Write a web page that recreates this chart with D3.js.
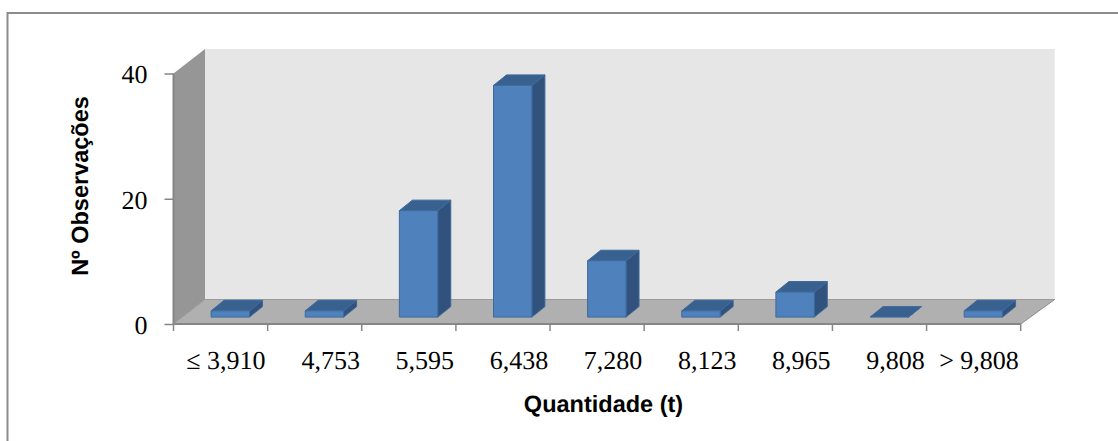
<!DOCTYPE html>
<html><head><meta charset="utf-8">
<style>html,body{margin:0;padding:0;background:#fff}svg{display:block}text{text-rendering:geometricPrecision}</style>
<script src="https://cdn.jsdelivr.net/npm/d3@7/dist/d3.min.js"></script></head>
<body><svg id="c" width="1118" height="441"></svg>
<script>
const categories = ["≤ 3,910","4,753","5,595","6,438","7,280","8,123","8,965","9,808","> 9,808"];
const values = [1,1,17,37,9,1,4,0,1];
const yTicks = [0,20,40];
const xTitle = "Quantidade (t)";
const yTitle = "Nº Observações";

const svg = d3.select("#c");
svg.append("path").attr("d","M7.5,441V13H1118").attr("fill","none").attr("stroke","#8c8c8c").attr("stroke-width",2);

const x = d3.scaleBand().domain(categories).range([173.5,1020.7]);
const y = d3.scaleLinear().domain([0,40]).range([324,73.5]);
const ddx=31.5, ddy=-24.5, extra=2.5;
const x0=x.range()[0], x1=x.range()[1], y0=y(0), yT=y(40);
const poly=(pts,fill,stroke,sw)=>svg.append("polygon").attr("points",pts.map(p=>p.join(",")).join(" ")).attr("fill",fill).attr("stroke",stroke||"none").attr("stroke-width",sw||0);

// back wall, side wall, floor
poly([[x0+ddx,yT+ddy],[x1+ddx+extra,yT+ddy],[x1+ddx+extra,y0+ddy],[x0+ddx,y0+ddy]],"#e6e6e6");
poly([[x0,yT],[x0+ddx,yT+ddy],[x0+ddx,y0+ddy],[x0,y0]],"#969696");
poly([[x0,y0],[x0+ddx,y0+ddy],[x1+ddx+extra,y0+ddy],[x1,y0]],"#b0b0b0");
svg.append("path").attr("d",`M${x0},${y0}L${x0+ddx},${y0+ddy}L${x1+ddx+extra},${y0+ddy}`).attr("fill","none").attr("stroke","#9a9a9a").attr("stroke-width",1);
svg.append("path").attr("d",`M${x1},${y0}L${x1+ddx+extra},${y0+ddy}`).attr("fill","none").attr("stroke","#8c8c8c").attr("stroke-width",1);

// bars
const bw=38.4, bx=37.6, bdx=13, bdy=-10.5, base=-6.9;
categories.forEach((c,i)=>{
  const l=x(c)+bx, r=l+bw, b=y(0)+base, t=y(values[i])+base;
  const st="#3d6a9c";
  poly([[r,t],[r+bdx,t+bdy],[r+bdx,b+bdy],[r,b]],"#31527c",st,1);
  poly([[l,t],[l+bdx,t+bdy],[r+bdx,t+bdy],[r,t]],"#38618f",st,1);
  if(values[i]>0) poly([[l,t],[r,t],[r,b],[l,b]],"#4f81bd",st,1);
});

// axes
const serif="'Liberation Serif'", sans="'Liberation Sans'";
const axY=svg.append("g").attr("transform",`translate(${x0},0)`).call(d3.axisLeft(y).tickValues(yTicks).tickSize(9).tickPadding(17).tickFormat(d3.format("d")));
axY.select(".domain").attr("stroke","#868686").attr("stroke-width",2).attr("d",`M0,${yT}V${y0}`);
axY.selectAll("line").attr("stroke","#868686").attr("stroke-width",1.5);
axY.selectAll("text").attr("font-family",serif).attr("font-size",26).attr("fill","#000").attr("dy","0.36em");

const axX=svg.append("g").attr("transform",`translate(0,${y0})`).call(d3.axisBottom(x).tickValues([]).tickSize(0));
axX.select(".domain").attr("stroke","#868686").attr("stroke-width",2).attr("d",`M${x0},0H${x1}`);
axX.selectAll(".edge").data([x0,...categories.map(c=>x(c)+x.bandwidth())]).enter().append("line").attr("class","edge")
  .attr("x1",d=>d).attr("x2",d=>d).attr("y1",0).attr("y2",7).attr("stroke","#868686").attr("stroke-width",1.5);
// a leading "≤ " or "> " hangs to the left of the centred number
svg.append("g").selectAll("text").data(categories).enter().append("text")
  .attr("x",c=>x(c)+x.bandwidth()/2+16-(/^[≤>]/.test(c)?10.6:0)).attr("y",369).attr("text-anchor","middle")
  .attr("font-family",serif).attr("font-size",26).attr("fill","#000").text(c=>c);

svg.append("text").attr("x",603.5).attr("y",411.5).attr("text-anchor","middle").attr("font-family",sans).attr("font-weight","bold").attr("font-size",23.5).text(xTitle);
svg.append("text").attr("transform","translate(88,186) rotate(-90)").attr("text-anchor","middle").attr("font-family",sans).attr("font-weight","bold").attr("font-size",23.5).text(yTitle);
</script></body></html>
